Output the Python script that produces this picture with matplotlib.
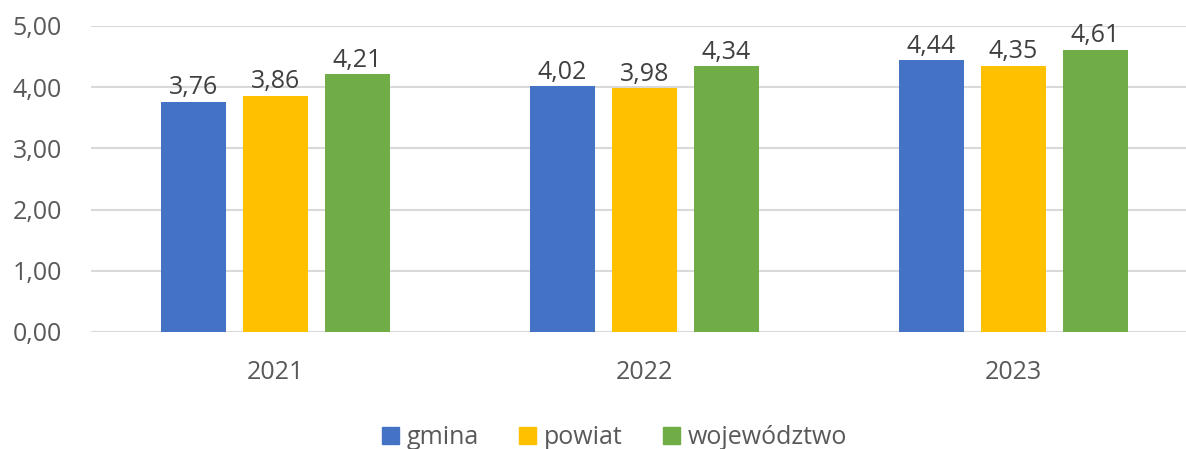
import numpy as np
import matplotlib
matplotlib.use("Agg")
import matplotlib.pyplot as plt
from matplotlib.patches import Patch

plt.rcParams['font.family'] = ['Open Sans', 'DejaVu Sans']

years = ['2021', '2022', '2023']
series = ['gmina', 'powiat', 'województwo']
gmina = [3.76, 4.02, 4.44]
powiat = [3.86, 3.98, 4.35]
wojewodztwo = [4.21, 4.34, 4.61]
colors = ['#4472C4', '#FFC000', '#70AD47']

fig = plt.figure(figsize=(11.86, 4.49), dpi=100)
ax = fig.add_axes([0.0767, 0.2606, 0.9334, 0.6815])

x = np.arange(len(years))
width = 0.176
step = 0.2225
for i, (vals, c) in enumerate(zip([gmina, powiat, wojewodztwo], colors)):
    bars = ax.bar(x + (i - 1) * step, vals, width, color=c, zorder=3)
    for b, v in zip(bars, vals):
        ax.annotate(f"{v:.2f}".replace('.', ','),
                    (b.get_x() + b.get_width() / 2, v),
                    xytext=(0, 1), textcoords='offset points',
                    ha='center', va='bottom', fontsize=18, color='#404040')

ax.set_xlim(-0.5, 2.5)
ax.set_ylim(0, 5)
ax.set_yticks(np.arange(0, 5.01, 1))
ax.set_yticklabels([f"{v:.2f}".replace('.', ',') for v in np.arange(0, 5.01, 1)])
ax.set_xticks(x)
ax.set_xticklabels(years)
ax.tick_params(axis='both', length=0, labelsize=18, labelcolor='#595959')
ax.tick_params(axis='y', pad=21)
ax.tick_params(axis='x', pad=20)
ax.grid(axis='y', color='#D9D9D9', linewidth=1.5, zorder=0)
ax.set_axisbelow(True)
for s in ax.spines.values():
    s.set_visible(False)

handles = [Patch(color=c) for c in colors]
fig.legend(handles, series, loc='center', bbox_to_anchor=(0.518, 0.025),
           ncol=3, frameon=False, fontsize=18, labelcolor='#595959',
           handlelength=0.7, handleheight=0.7, handletextpad=0.3,
           columnspacing=1.6)

fig.savefig('out.png', dpi=100)
